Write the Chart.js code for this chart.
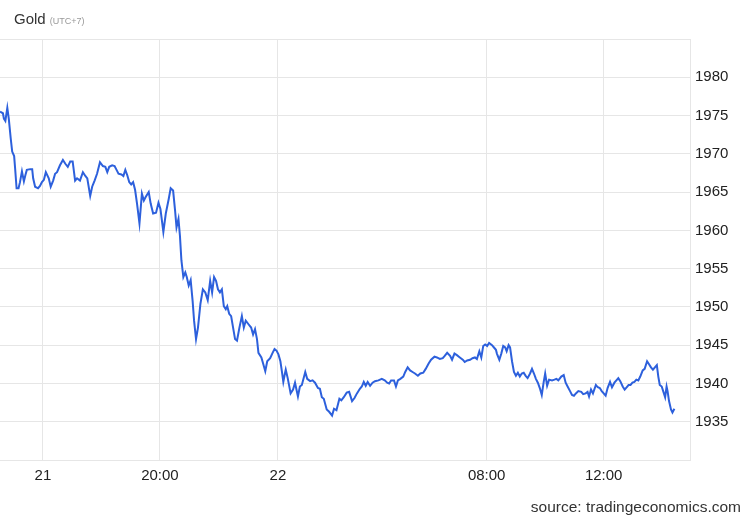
<!DOCTYPE html>
<html>
<head>
<meta charset="utf-8">
<script src="https://cdn.jsdelivr.net/npm/chart.js@4/dist/chart.umd.min.js"></script>
<style>
  body { margin: 0; background: #fff; }
  #wrap { position: relative; width: 750px; height: 520px; font-family: "Liberation Sans", Arial, sans-serif; }
  #chart { position: absolute; left: 0; top: 0; }
  #title { position: absolute; left: 14px; top: 10px; font-size: 15px; color: #333; }
  #title span { font-size: 9px; color: #999; }
  #source { position: absolute; right: 9px; top: 498px; font-size: 15.5px; color: #333; }
</style>
</head>
<body>
<div id="wrap">
  <canvas id="chart" width="750" height="520"></canvas>
  <div id="title">Gold <span>(UTC+7)</span></div>
  <div id="source">source: tradingeconomics.com</div>
</div>
<script>
// trading minutes since the first quote (market gaps removed)
const times = [
  0, 6, 8, 11, 15, 18, 22, 25, 29, 31, 34, 38, 41, 45, 49, 52, 55, 62, 66, 68,
  72, 78, 82, 86, 90, 94, 100, 104, 109, 113, 117, 123, 129, 134, 139, 144, 149, 154, 158, 164,
  170, 175, 179, 185, 189, 194, 199, 205, 211, 216, 220, 224, 230, 235, 239, 243, 249, 253, 257, 261,
  265, 269, 273, 277, 281, 286, 291, 295, 299, 305, 309, 314, 320, 325, 329, 335, 340, 346, 350, 355,
  359, 362, 366, 369, 372, 376, 380, 383, 387, 391, 395, 398, 402, 406, 411, 416, 421, 426, 431, 435,
  439, 443, 447, 451, 455, 459, 463, 466, 470, 474, 478, 482, 486, 491, 496, 500, 504, 510, 515, 519,
  523, 527, 530, 536, 540, 544, 548, 554, 559, 563, 567, 571, 575, 578, 581, 584, 586, 590, 596, 601,
  605, 611, 615, 619, 626, 630, 636, 641, 646, 652, 656, 660, 664, 670, 675, 681, 685, 690, 696, 700,
  705, 711, 716, 722, 727, 732, 738, 742, 746, 750, 754, 759, 764, 769, 776, 783, 789, 794, 798, 802,
  808, 812, 816, 821, 827, 831, 836, 841, 846, 851, 857, 862, 868, 873, 879, 884, 891, 896, 902, 908,
  912, 917, 923, 927, 932, 937, 943, 949, 953, 958, 964, 969, 974, 978, 983, 987, 991, 995, 999, 1003,
  1009, 1013, 1017, 1019, 1024, 1028, 1032, 1036, 1039, 1043, 1046, 1050, 1054, 1058, 1062, 1066, 1070, 1074, 1078, 1082,
  1087, 1091, 1095, 1099, 1103, 1107, 1111, 1115, 1118, 1122, 1126, 1132, 1137, 1141, 1145, 1151, 1156, 1160, 1164, 1169,
  1173, 1177, 1181, 1186, 1192, 1196, 1201, 1205, 1208, 1212, 1216, 1222, 1226, 1230, 1234, 1238, 1242, 1246, 1251, 1255,
  1260, 1264, 1268, 1272, 1277, 1281, 1285, 1289, 1293, 1297, 1301, 1305, 1309, 1313, 1318, 1322, 1327, 1331, 1335, 1339,
  1343, 1347, 1350, 1353, 1357, 1360, 1364, 1367, 1369, 1372, 1376, 1379, 1383
]
const prices = [
  1975.5, 1975.3, 1974.6, 1974.3, 1976.0, 1974.6, 1972.0, 1970.3, 1969.7, 1968.1, 1965.5, 1965.5, 1966.3, 1967.7, 1966.4, 1967.2, 1967.9, 1968.0, 1968.0, 1966.8,
  1965.7, 1965.5, 1965.8, 1966.3, 1966.6, 1967.6, 1966.8, 1965.7, 1966.5, 1967.4, 1967.6, 1968.5, 1969.2, 1968.7, 1968.3, 1969.0, 1969.0, 1966.5, 1966.8, 1966.5,
  1967.6, 1967.1, 1966.8, 1964.5, 1965.7, 1966.5, 1967.4, 1968.9, 1968.4, 1968.3, 1967.6, 1968.3, 1968.5, 1968.4, 1967.9, 1967.4, 1967.3, 1967.1, 1967.9, 1967.2,
  1966.3, 1966.0, 1966.3, 1965.3, 1963.5, 1960.9, 1964.8, 1963.9, 1964.4, 1965.0, 1963.5, 1962.2, 1962.3, 1963.6, 1962.8, 1959.8, 1962.2, 1964.1, 1965.5, 1965.2,
  1962.6, 1960.4, 1961.5, 1959.3, 1956.1, 1953.9, 1954.5, 1953.9, 1952.8, 1953.5, 1950.8, 1948.2, 1945.8, 1947.3, 1950.4, 1952.3, 1951.9, 1950.9, 1953.4, 1951.9,
  1953.9, 1953.4, 1952.3, 1951.9, 1952.3, 1950.1, 1949.7, 1950.1, 1949.1, 1948.8, 1947.3, 1945.8, 1945.6, 1947.3, 1948.8, 1947.3, 1948.2, 1947.7, 1947.3, 1946.4,
  1947.1, 1945.8, 1944.0, 1943.4, 1942.5, 1941.6, 1942.9, 1943.3, 1944.0, 1944.5, 1944.3, 1943.8, 1942.9, 1941.6, 1940.2, 1941.2, 1941.8, 1940.7, 1938.7, 1939.2,
  1940.1, 1938.3, 1939.6, 1939.8, 1941.5, 1940.6, 1940.3, 1940.4, 1940.1, 1939.4, 1939.3, 1938.2, 1938.0, 1936.6, 1936.3, 1935.8, 1936.7, 1936.5, 1938.0, 1937.8,
  1938.2, 1938.8, 1938.9, 1937.7, 1938.1, 1938.7, 1939.3, 1939.6, 1940.2, 1939.7, 1940.2, 1939.7, 1940.1, 1940.3, 1940.4, 1940.6, 1940.4, 1940.1, 1940.0, 1940.4,
  1940.4, 1939.6, 1940.4, 1940.6, 1940.9, 1941.5, 1942.1, 1941.7, 1941.5, 1941.3, 1941.0, 1941.3, 1941.4, 1941.9, 1942.6, 1943.1, 1943.5, 1943.4, 1943.2, 1943.3,
  1943.6, 1944.0, 1943.6, 1943.1, 1943.9, 1943.7, 1943.4, 1943.1, 1942.8, 1943.0, 1943.1, 1943.3, 1943.4, 1943.2, 1944.2, 1943.4, 1944.9, 1945.1, 1944.9, 1945.3,
  1945.0, 1944.7, 1944.4, 1943.9, 1943.1, 1943.9, 1944.9, 1944.7, 1944.2, 1945.0, 1944.7, 1942.9, 1941.5, 1941.0, 1941.4, 1940.9, 1941.3, 1941.4, 1941.0, 1940.7,
  1941.3, 1941.9, 1941.3, 1940.6, 1940.1, 1939.4, 1938.5, 1940.2, 1941.3, 1939.7, 1940.5, 1940.4, 1940.5, 1940.6, 1940.4, 1940.9, 1941.1, 1940.1, 1939.6, 1939.0,
  1938.5, 1938.4, 1938.7, 1939.0, 1938.9, 1938.6, 1938.7, 1938.9, 1938.3, 1939.2, 1938.7, 1939.8, 1939.5, 1939.4, 1939.0, 1938.7, 1938.4, 1939.4, 1940.2, 1939.5,
  1940.1, 1940.4, 1940.7, 1940.3, 1939.6, 1939.2, 1939.5, 1939.8, 1939.8, 1940.1, 1940.2, 1940.5, 1940.4, 1940.9, 1941.7, 1941.9, 1942.9, 1942.5, 1942.1, 1941.8,
  1942.1, 1942.4, 1940.9, 1939.8, 1939.6, 1939.0, 1938.2, 1939.6, 1939.0, 1937.7, 1936.6, 1936.2, 1936.7
]
const tickTimes = [88, 328, 570, 998, 1238]
const tickLabels = ['21', '20:00', '22', '08:00', '12:00']
const timeEnd = 1415

const gridColor = '#e6e6e6'
const textColor = '#222'

Chart.defaults.font.family = '"Liberation Sans", Arial, sans-serif'
Chart.defaults.font.size = 15

const points = times.map((t, i) => ({ x: t, y: prices[i] }))

new Chart(document.getElementById('chart'), {
  type: 'line',
  data: {
    datasets: [{
      label: 'Gold',
      data: points,
      borderColor: '#2d60dc',
      borderWidth: 2,
      pointRadius: 0,
      tension: 0,
      fill: false
    }]
  },
  options: {
    responsive: false,
    animation: false,
    events: [],
    layout: { padding: { top: 39, left: 0, right: 0, bottom: 0 } },
    plugins: {
      legend: { display: false },
      tooltip: { enabled: false }
    },
    scales: {
      x: {
        type: 'linear',
        min: 0,
        max: timeEnd,
        afterBuildTicks: axis => { axis.ticks = tickTimes.map(v => ({ value: v })) },
        afterFit: axis => { axis.height = 60 },
        ticks: {
          color: textColor,
          padding: 7,
          maxRotation: 0,
          autoSkip: false,
          callback: (value, index) => tickLabels[index]
        },
        grid: { color: gridColor, drawTicks: false },
        border: { color: gridColor }
      },
      y: {
        position: 'right',
        min: 1930,
        max: 1985,
        afterFit: axis => { axis.width = 60 },
        ticks: {
          stepSize: 5,
          color: textColor,
          padding: 5,
          callback: v => (v <= 1930 || v >= 1985) ? '' : v
        },
        grid: { color: gridColor, drawTicks: false },
        border: { color: gridColor }
      }
    }
  }
})
</script>
</body>
</html>
